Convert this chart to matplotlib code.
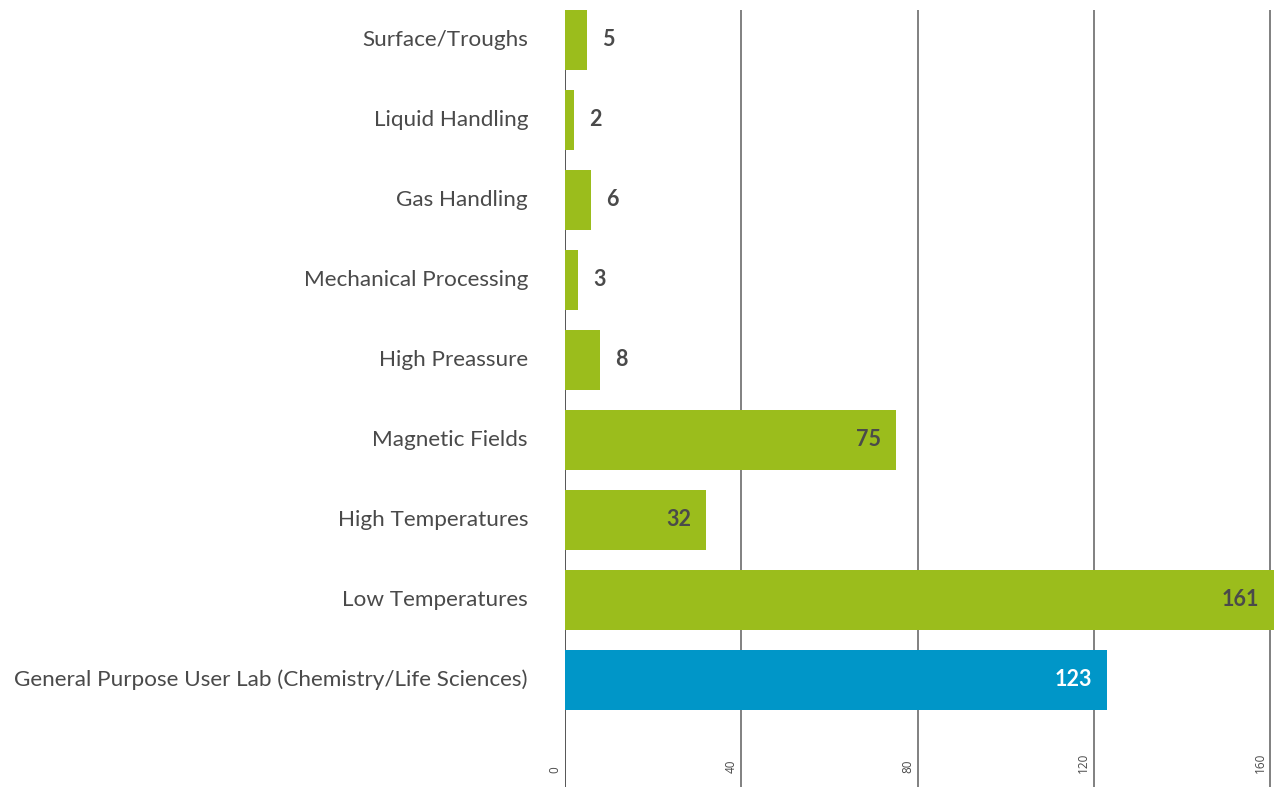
import matplotlib
matplotlib.use("Agg")
import matplotlib.pyplot as plt
import matplotlib.transforms as mtransforms

categories = ["Surface/Troughs", "Liquid Handling", "Gas Handling", "Mechanical Processing",
              "High Preassure", "Magnetic Fields", "High Temperatures", "Low Temperatures",
              "General Purpose User Lab (Chemistry/Life Sciences)"]
values = [5, 2, 6, 3, 8, 75, 32, 161, 123]
colors = ["#9bbd1c"] * 8 + ["#0096c8"]
tick_values = [0, 40, 80, 120, 160]

plt.rcParams['font.family'] = ['Lato', 'DejaVu Sans']

fig = plt.figure(figsize=(12.78, 7.87), dpi=100)
ax = fig.add_axes([565/1278, 0, 1 - 565/1278, 1 - 10/787])

ypos = list(range(len(categories)))
ax.set_xlim(0, 161.8)
ax.set_ylim(9.3375, -0.375)

for t in tick_values:
    ax.axvline(t, color="#555555" if t == 0 else "#808080", lw=1.4, zorder=1)

bars = ax.barh(ypos, values, height=0.76, color=colors, zorder=2)

for spine in ax.spines.values():
    spine.set_visible(False)
ax.set_xticks([])
ax.set_yticks([])

txtcolor = "#4a4a4a"
for i, (c, v, col) in enumerate(zip(categories, values, colors)):
    ax.text(0, i, c, transform=mtransforms.offset_copy(ax.transData, fig=fig, x=-37, y=0, units='dots'),
            ha='right', va='center', fontsize=16.2, color=txtcolor)
    if v < 20:
        ax.text(v, i, str(v), transform=mtransforms.offset_copy(ax.transData, fig=fig, x=15, y=0, units='dots'),
                ha='left', va='center', fontsize=15.5, fontweight='bold', color=txtcolor)
    else:
        tc = "white" if col == "#0096c8" else txtcolor
        ax.text(v, i, str(v), transform=mtransforms.offset_copy(ax.transData, fig=fig, x=-15, y=0, units='dots'),
                ha='right', va='center', fontsize=15.5, fontweight='bold', color=tc)

trans = mtransforms.blended_transform_factory(ax.transData, ax.transAxes)
for t in tick_values:
    ax.text(t, 14/777, str(t), transform=mtransforms.offset_copy(trans, fig=fig, x=-10, y=0, units='dots'),
            rotation=90, ha='center', va='bottom', fontsize=8.5, color="#4a4a4a",
            family=['Open Sans', 'DejaVu Sans'])

fig.savefig("out.png", dpi=100)
